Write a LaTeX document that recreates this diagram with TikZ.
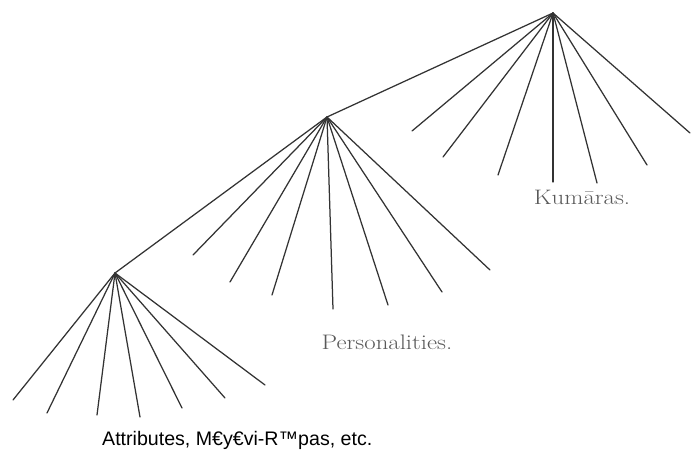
\documentclass[tikz,border=0pt]{standalone}
\usepackage{fontspec}
\usepackage{graphicx}
\newfontfamily\capfont{Liberation Sans}
\newcommand{\widelabel}[1]{\scalebox{1.18}[1]{#1}}
\begin{document}
\begin{tikzpicture}[x=1pt,y=-1pt,
  branch/.style={draw=black!80, line width=1.25pt, line cap=round},
  serlabel/.style={text=black!65, font=\fontsize{21}{24}\selectfont, inner sep=0pt},
  caption/.style={text=black, font=\capfont\fontsize{19.6}{23}\selectfont, inner sep=0pt, anchor=base west}]
\useasboundingbox (0,0) rectangle (691,459);
% apexes
\coordinate (top) at (553,13);
\coordinate (mid) at (327,117);
\coordinate (low) at (115,273);
% top leaves
\coordinate (t1) at (412,131);
\coordinate (t2) at (443,157);
\coordinate (t3) at (498,175);
\coordinate (t4) at (553,182);
\coordinate (t5) at (597,183);
\coordinate (t6) at (647,165);
\coordinate (t7) at (690,133);
% middle leaves
\coordinate (m1) at (193,255);
\coordinate (m2) at (230,282);
\coordinate (m3) at (272,295);
\coordinate (m4) at (333,309);
\coordinate (m5) at (388,305);
\coordinate (m6) at (442,292);
\coordinate (m7) at (490,270);
% lower leaves
\coordinate (l1) at (13,400);
\coordinate (l2) at (47,413);
\coordinate (l3) at (97,415);
\coordinate (l4) at (140,417);
\coordinate (l5) at (182,408);
\coordinate (l6) at (225,398);
\coordinate (l7) at (265,385);
% trunk
\draw[branch] (top) -- (mid) -- (low);
\foreach \i in {1,...,7} {
  \draw[branch] (top) -- (t\i);
  \draw[branch] (mid) -- (m\i);
  \draw[branch] (low) -- (l\i);
}
\node[serlabel] (kum) at (582,197) {\widelabel{Kumāras.}};
\node[serlabel] (pers) at (387,342) {\widelabel{Personalities.}};
\node[caption] (attr) at (102,445) {Attributes, M€y€vi-R™pas, etc.};
\end{tikzpicture}
\end{document}
